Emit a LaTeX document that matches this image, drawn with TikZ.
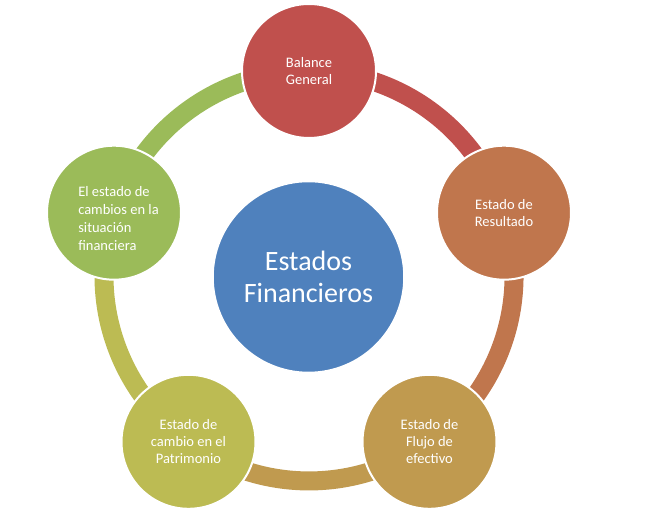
\documentclass[tikz,border=0pt]{standalone}
\usepackage{fontspec}
\setmainfont{Carlito}
\definecolor{cblue}{HTML}{4F81BD}
\definecolor{cred}{HTML}{C0504D}
\definecolor{corange}{HTML}{C0764D}
\definecolor{cgold}{HTML}{C09A4F}
\definecolor{colive}{HTML}{BCBB53}
\definecolor{cgreen}{HTML}{9BBB59}
\begin{document}
\begin{tikzpicture}[x=1pt,y=1pt,
  ring/.style={line width=19pt},
  outer/.style={circle, draw=white, line width=2pt, minimum size=134pt, inner sep=0pt,
    text=white, align=center, font=\fontsize{14.5}{17}\selectfont},
  lbl/.style={text=white, inner sep=0pt, font=\fontsize{14.5}{17.7}\selectfont},
  hub/.style={circle, draw=white, line width=1.5pt, minimum size=191pt, inner sep=0pt,
    fill=cblue, text=white, align=center, font=\fontsize{28}{32}\selectfont}]
\useasboundingbox (0,0) rectangle (654,514);
% centres on a pentagon of radius 205 around (309,238)
\coordinate (cbg) at (309,443);
\coordinate (cres) at (504,301.3);
\coordinate (cflu) at (429.5,72.2);
\coordinate (cpat) at (188.5,72.2);
\coordinate (cgrn) at (114,301.3);
% ring segments
\draw[ring, cred] (cbg) arc[start angle=90, end angle=18, radius=205pt];
\draw[ring, corange] (cres) arc[start angle=18, end angle=-54, radius=205pt];
\draw[ring, cgold] (cflu) arc[start angle=-54, end angle=-126, radius=205pt];
\draw[ring, colive] (cpat) arc[start angle=-126, end angle=-198, radius=205pt];
\draw[ring, cgreen] (cgrn) arc[start angle=162, end angle=90, radius=205pt];
% circles
\node[hub] (hub) at (308.5,237) {Estados\\Financieros};
\node[outer, fill=cred] (bg) at (cbg) {Balance\\General};
\node[outer, fill=corange] (res) at (cres) {Estado de\\Resultado};
\node[outer, fill=cgold] (flu) at (cflu) {Estado de\\Flujo de\\efectivo};
\node[outer, fill=colive] (pat) at (cpat) {Estado de\\cambio en el\\Patrimonio};
\node[outer, fill=cgreen] (grn) at (cgrn) {};
\node[lbl, align=left] (grntext) at (118.5,295.5) {El estado de\\cambios en la\\situación\\financiera};
\end{tikzpicture}
\end{document}
